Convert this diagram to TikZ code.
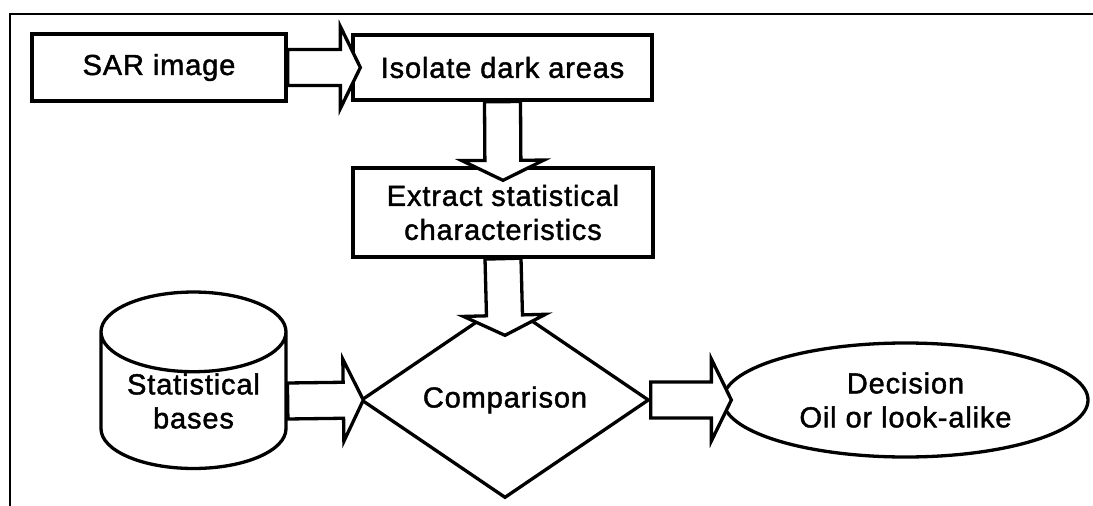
\documentclass[tikz,border=0pt]{standalone}
\usepackage{fontspec}
\newfontfamily\diagfont{Liberation Sans}[LetterSpace=3,FakeBold=1.5]
\usetikzlibrary{shapes.geometric,calc}

\begin{document}
\begin{tikzpicture}[x=1pt,y=-1pt,line width=3.3pt,
  txt/.style={font=\diagfont\fontsize{29}{34}\selectfont,align=center,inner sep=0pt},
  box/.style={txt,draw,rectangle},
  bigarrow/.style={draw,fill=white,to path={
    ($(\tikztostart)!18pt!90:(\tikztotarget)$)
    -- ($($(\tikztotarget)!20pt!(\tikztostart)$)!18pt!90:(\tikztotarget)$)
    -- ($($(\tikztotarget)!20pt!(\tikztostart)$)!41pt!90:(\tikztotarget)$)
    -- (\tikztotarget)
    -- ($($(\tikztotarget)!20pt!(\tikztostart)$)!41pt!-90:(\tikztotarget)$)
    -- ($($(\tikztotarget)!20pt!(\tikztostart)$)!18pt!-90:(\tikztotarget)$)
    -- ($(\tikztostart)!18pt!-90:(\tikztotarget)$) -- cycle}}]

\useasboundingbox (0,0) rectangle (1093,506);

% frame
\draw[line width=2.8pt] (1093,14)--(10,14)--(10,506);

\node[box,minimum width=254,minimum height=67] (sar) at (159,67.5) {SAR image};
\node[box,minimum width=299,minimum height=65] (iso) at (502.5,67.5) {Isolate dark areas};
\node[box,minimum width=300,minimum height=89] (ext) at (503,212.5) {Extract statistical\\characteristics};
\node[txt,draw,cylinder,shape border rotate=90,aspect=0.6,minimum width=185,minimum height=154] (db) at (193.5,401) {Statistical\\bases};
\node[txt,draw,diamond,aspect=1.5,minimum width=288,minimum height=196] (cmp) at (505,400) {Comparison};
\node[txt,draw,ellipse,minimum width=365,minimum height=114] (dec) at (905.5,400) {Decision\\Oil or look-alike};

% block arrows
\path[bigarrow] (sar.east) to ([xshift=9pt]iso.west);
\path[bigarrow] (iso.south) to ([yshift=-14pt]ext.north);
\path[bigarrow] (ext.south) to ([yshift=-35pt]cmp.north);
\path[bigarrow] (db.east) to ([xshift=4pt]cmp.west);
\path[bigarrow] (cmp.east) to ([xshift=10pt]dec.west);

\end{tikzpicture}
\end{document}
